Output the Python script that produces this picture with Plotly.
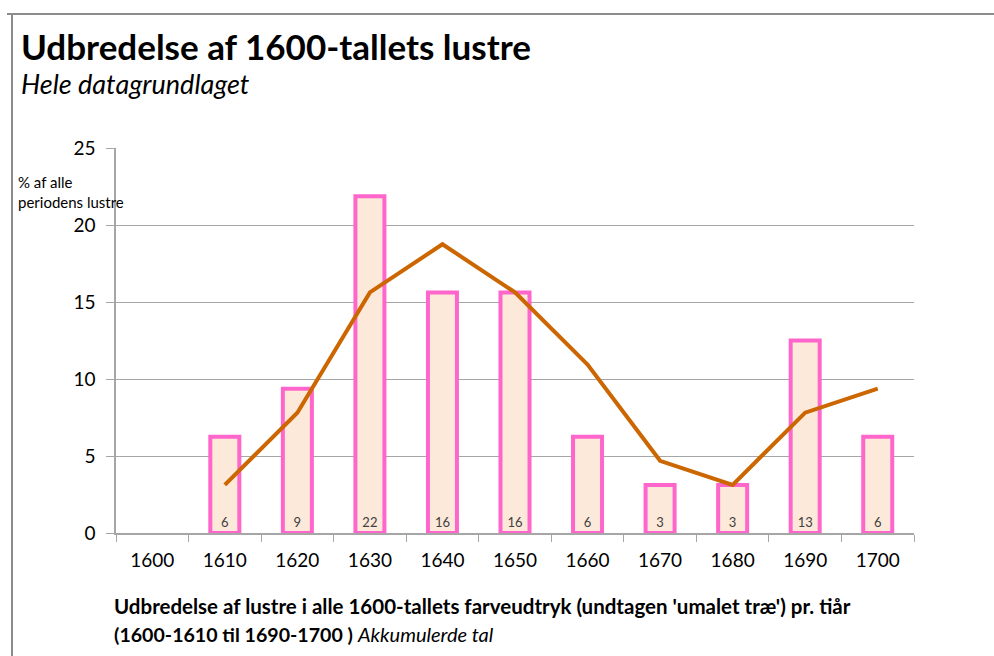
import plotly.graph_objects as go

# Decades on the category axis
decades = ["1600", "1610", "1620", "1630", "1640", "1650",
           "1660", "1670", "1680", "1690", "1700"]

# Share of all the period's lustre per decade (%)
bar_decades = ["1610", "1620", "1630", "1640", "1650",
               "1660", "1670", "1680", "1690", "1700"]
share_pct = [6.25, 9.375, 21.875, 15.625, 15.625,
             6.25, 3.125, 3.125, 12.5, 6.25]

# Smoothed trend (two-decade average)
trend_pct = [3.125, 7.8125, 15.625, 18.75, 15.625,
             10.9375, 4.6875, 3.125, 7.8125, 9.375]

y_ticks = [0, 5, 10, 15, 20, 25]

FONT = "Lato"
W, H = 994, 656
PL, PR, PT, PB = 116, 914, 148, 533  # plot area in pixels


def px(x):
    return (x - PL) / (PR - PL)


def py(y):
    return (PB - y) / (PB - PT)


fig = go.Figure()

fig.add_trace(go.Bar(
    x=bar_decades,
    y=share_pct,
    width=0.40,
    marker=dict(color="#FDE9D9", line=dict(color="#FF66CC", width=4)),
    texttemplate="%{y:.0f}",
    textposition="inside",
    insidetextanchor="start",
    textangle=0,
    textfont=dict(family=FONT, size=13, color="#404040"),
    hoverinfo="skip",
    showlegend=False,
))

fig.add_trace(go.Scatter(
    x=bar_decades,
    y=trend_pct,
    mode="lines",
    line=dict(color="#CC6600", width=4),
    hoverinfo="skip",
    showlegend=False,
))

fig.update_layout(
    width=W,
    height=H,
    margin=dict(l=PL, r=W - PR, t=PT, b=H - PB),
    paper_bgcolor="white",
    plot_bgcolor="white",
    font=dict(family=FONT, color="#000000"),
    bargap=0.5,
    xaxis=dict(
        type="category",
        categoryorder="array",
        categoryarray=decades,
        range=[-0.5, len(decades) - 0.5],
        tickson="boundaries",
        ticks="outside",
        ticklen=7,
        tickcolor="#A6A6A6",
        showline=True,
        linecolor="#A6A6A6",
        linewidth=1.5,
        showgrid=False,
        ticklabelstandoff=9,
        tickfont=dict(family=FONT, size=19, color="#000000"),
    ),
    yaxis=dict(
        range=[0, 25],
        tickvals=y_ticks,
        ticks="outside",
        ticklen=8,
        tickcolor="#A6A6A6",
        showline=True,
        linecolor="#A6A6A6",
        linewidth=1.5,
        showgrid=True,
        gridcolor="#A6A6A6",
        gridwidth=1,
        zeroline=False,
        ticklabelstandoff=7,
        tickfont=dict(family=FONT, size=19, color="#000000"),
    ),
    shapes=[
        dict(type="line", xref="paper", yref="paper",
             x0=px(7), x1=px(994), y0=py(14), y1=py(14),
             line=dict(color="#8C8C8C", width=2)),
        dict(type="line", xref="paper", yref="paper",
             x0=px(12), x1=px(12), y0=py(14), y1=py(656),
             line=dict(color="#8C8C8C", width=2)),
    ],
    annotations=[
        dict(text="<b>Udbredelse af 1600-tallets lustre</b>",
             xref="paper", yref="paper", x=px(19), y=py(46),
             xanchor="left", yanchor="middle", showarrow=False,
             font=dict(family=FONT, size=35, color="#000000")),
        dict(text="<i>Hele datagrundlaget</i>",
             xref="paper", yref="paper", x=px(19), y=py(83),
             xanchor="left", yanchor="middle", showarrow=False,
             font=dict(family=FONT, size=27, color="#000000")),
        dict(text="% af alle<br>periodens lustre",
             xref="paper", yref="paper", x=px(16), y=py(192),
             xanchor="left", yanchor="middle", align="left",
             showarrow=False,
             font=dict(family=FONT, size=15, color="#000000")),
        dict(text="<b>Udbredelse af lustre i alle 1600-tallets farveudtryk "
                  "(undtagen 'umalet træ') pr. tiår</b>",
             xref="paper", yref="paper", x=px(112), y=py(606),
             xanchor="left", yanchor="middle", showarrow=False,
             font=dict(family=FONT, size=20.5, color="#000000")),
        dict(text="<b>(1600-1610 til 1690-1700 )</b> "
                  "<i><span style='font-size:20px'>Akkumulerde tal</span></i>",
             xref="paper", yref="paper", x=px(112), y=py(634),
             xanchor="left", yanchor="middle", showarrow=False,
             font=dict(family=FONT, size=19.6, color="#000000")),
    ],
)

fig.write_html("out.html")
